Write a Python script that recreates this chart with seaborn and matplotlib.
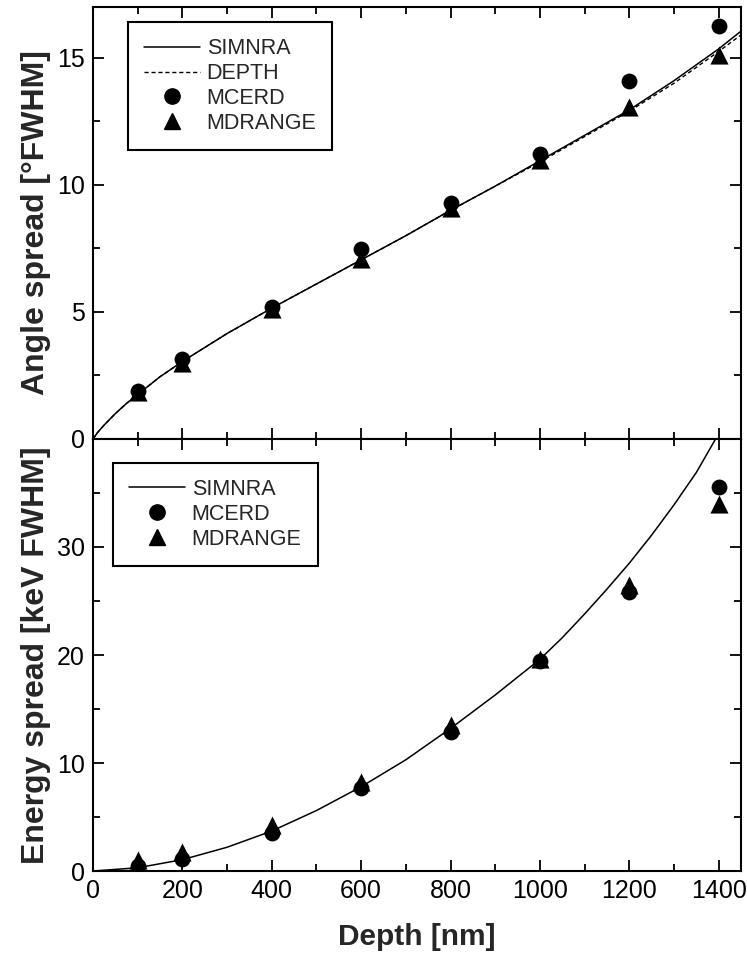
"""Angle and energy spread vs depth: SIMNRA / DEPTH curves vs MCERD / MDRANGE simulations."""

import matplotlib
matplotlib.use("Agg")
import matplotlib.pyplot as plt
from matplotlib.ticker import MultipleLocator
from matplotlib.lines import Line2D
import seaborn as sns
import pandas as pd

# ---- data ----
sim_depth = [0, 10, 25, 50, 75, 100, 150, 200, 300, 400, 500, 600, 700, 800, 900,
             1000, 1100, 1200, 1300, 1400, 1450]
angle_simnra = [0, 0.25, 0.55, 1.0, 1.4, 1.75, 2.45, 3.05, 4.15, 5.15, 6.1, 7.05,
                8.0, 9.0, 9.95, 10.95, 11.95, 12.95, 14.1, 15.35, 16.05]
angle_depth = [0, 0.25, 0.55, 1.0, 1.4, 1.75, 2.45, 3.05, 4.15, 5.15, 6.1, 7.05,
               8.0, 9.0, 9.95, 10.9, 11.9, 12.9, 14.0, 15.25, 15.9]

energy_depth = [0, 100, 200, 300, 400, 500, 600, 700, 800, 900, 1000, 1050,
                1100, 1150, 1200, 1250, 1300, 1350, 1400]
energy_simnra = [0, 0.3, 1.05, 2.2, 3.7, 5.6, 7.8, 10.3, 13.2, 16.3, 19.6, 21.6,
                 23.8, 26.1, 28.5, 31.1, 33.9, 36.9, 40.5]

mc_depth = [100, 200, 400, 600, 800, 1000, 1200, 1400]
angle_mcerd = [1.9, 3.14, 5.2, 7.48, 9.28, 11.2, 14.08, 16.25]
angle_mdrange = [1.85, 3.0, 5.13, 7.09, 9.1, 10.97, 13.06, 15.1]
energy_mcerd = [0.5, 1.08, 3.5, 7.65, 12.9, 19.4, 25.8, 35.6]
energy_mdrange = [1.0, 1.8, 4.26, 8.27, 13.5, 19.6, 26.5, 34.0]

sns.set_theme(style="ticks")
plt.rcParams['font.family'] = ['Liberation Sans', 'DejaVu Sans']

fig, (ax1, ax2) = plt.subplots(2, 1, figsize=(7.47, 9.56), dpi=100, sharex=True)
fig.subplots_adjust(left=0.1245, right=0.992, top=0.9927, bottom=0.0889, hspace=0)

line_df = pd.DataFrame({'depth': sim_depth, 'simnra': angle_simnra, 'depth_code': angle_depth})
eline_df = pd.DataFrame({'depth': energy_depth, 'simnra': energy_simnra})
pts_df = pd.DataFrame({'depth': mc_depth,
                       'a_mcerd': angle_mcerd, 'a_mdrange': angle_mdrange,
                       'e_mcerd': energy_mcerd, 'e_mdrange': energy_mdrange})

# top panel
sns.lineplot(data=line_df, x='depth', y='simnra', ax=ax1, color='black', lw=1.1)
sns.lineplot(data=line_df, x='depth', y='depth_code', ax=ax1, color='black', lw=1.0,
             linestyle=(0, (3, 2)))
sns.scatterplot(data=pts_df, x='depth', y='a_mcerd', ax=ax1, marker='o', s=130,
                color='black', edgecolor='black', linewidth=0, zorder=3)
sns.scatterplot(data=pts_df, x='depth', y='a_mdrange', ax=ax1, marker='^', s=170,
                color='black', edgecolor='black', linewidth=0, zorder=3)

# bottom panel
sns.lineplot(data=eline_df, x='depth', y='simnra', ax=ax2, color='black', lw=1.1)
sns.scatterplot(data=pts_df, x='depth', y='e_mcerd', ax=ax2, marker='o', s=130,
                color='black', edgecolor='black', linewidth=0, zorder=3)
sns.scatterplot(data=pts_df, x='depth', y='e_mdrange', ax=ax2, marker='^', s=170,
                color='black', edgecolor='black', linewidth=0, zorder=3)

ax1.set_xlim(0, 1450)
ax1.set_ylim(0, 17)
ax2.set_ylim(0, 40)

for ax in (ax1, ax2):
    ax.xaxis.set_major_locator(MultipleLocator(200))
    ax.xaxis.set_minor_locator(MultipleLocator(100))
    ax.tick_params(which='both', direction='in', top=True, right=True,
                   labelsize=18, width=1.3, color='black', labelcolor='black')
    ax.tick_params(which='major', length=8, pad=6)
    ax.tick_params(which='minor', length=5)
    for s in ax.spines.values():
        s.set_linewidth(1.5)
        s.set_color('black')

ax1.yaxis.set_major_locator(MultipleLocator(5))
ax1.yaxis.set_minor_locator(MultipleLocator(2.5))
ax2.set_yticks([0, 10, 20, 30])
ax2.set_yticks([5, 15, 25, 35], minor=True)
ax1.tick_params(labelbottom=False)

ax1.set_xlabel('')
ax2.set_xlabel('Depth [nm]', fontsize=21.5, fontweight='bold', labelpad=14)
ax1.set_ylabel('Angle spread [°FWHM]', fontsize=23, fontweight='bold', labelpad=4)
ax2.set_ylabel('Energy spread [keV FWHM]', fontsize=23, fontweight='bold', labelpad=4)
fig.align_ylabels([ax1, ax2])

h_sim = Line2D([], [], color='black', lw=1.1)
h_dep = Line2D([], [], color='black', lw=1.0, linestyle=(0, (3, 2)))
h_mc = Line2D([], [], color='black', marker='o', ls='none', markersize=11)
h_md = Line2D([], [], color='black', marker='^', ls='none', markersize=12)

leg_kw = dict(loc='upper left', borderaxespad=0, fontsize=15.5, frameon=True,
              fancybox=False, edgecolor='black', handlelength=2.6,
              handletextpad=0.3, labelspacing=0.18, borderpad=0.75)
leg1 = ax1.legend([h_sim, h_dep, h_mc, h_md], ['SIMNRA', 'DEPTH', 'MCERD', 'MDRANGE'],
                  bbox_to_anchor=(0.054, 0.965), **leg_kw)
leg2 = ax2.legend([h_sim, h_mc, h_md], ['SIMNRA', 'MCERD', 'MDRANGE'],
                  bbox_to_anchor=(0.031, 0.945), **leg_kw)
for leg in (leg1, leg2):
    leg.get_frame().set_linewidth(1.5)
    leg.get_frame().set_alpha(1)

plt.savefig('out.png', dpi=100)
